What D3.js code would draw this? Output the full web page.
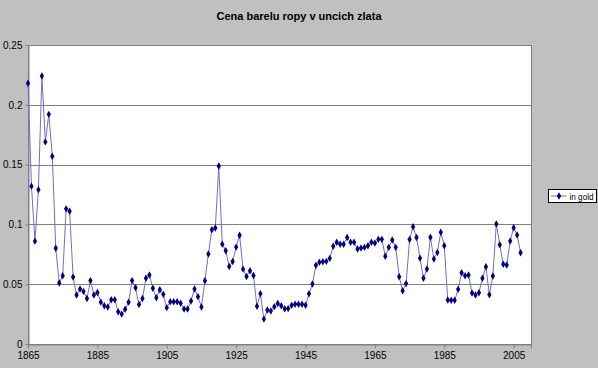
<!DOCTYPE html>
<html>
<head>
<meta charset="utf-8">
<script src="https://cdn.jsdelivr.net/npm/d3@7"></script>
<style>
  body { margin: 0; background: #c0c0c0; }
  svg { display: block; }
</style>
</head>
<body>
<script>
// data: barrel of oil priced in ounces of gold, one value per year from 1865
var startYear = 1865;
var inGold = [
  0.218, 0.132, 0.086, 0.129, 0.224, 0.169, 0.192, 0.157, 0.080, 0.051,
  0.057, 0.113, 0.111, 0.056, 0.041, 0.046, 0.044, 0.038, 0.053, 0.041,
  0.043, 0.035, 0.032, 0.031, 0.037, 0.037, 0.027, 0.025, 0.029, 0.035,
  0.053, 0.047, 0.033, 0.038, 0.055, 0.0577, 0.0466, 0.0387, 0.0454, 0.0415,
  0.0304, 0.0354, 0.0354, 0.0354, 0.034, 0.0293, 0.0293, 0.036, 0.046, 0.0396,
  0.031, 0.0529, 0.0753, 0.0956, 0.097, 0.1488, 0.0835, 0.078, 0.0648, 0.069,
  0.081, 0.091, 0.0626, 0.0565, 0.0613, 0.0572, 0.0315, 0.0421, 0.0208, 0.0284,
  0.0276, 0.0312, 0.0338, 0.032, 0.0294, 0.0296, 0.0324, 0.0333, 0.0333, 0.0332,
  0.0324, 0.042, 0.0502, 0.0658, 0.0683, 0.0688, 0.0691, 0.0716, 0.0817, 0.085,
  0.0834, 0.0834, 0.089, 0.085, 0.085, 0.0794, 0.0803, 0.0808, 0.0822, 0.085,
  0.0844, 0.0875, 0.0875, 0.0733, 0.0808, 0.087, 0.0808, 0.0563, 0.0446, 0.0505,
  0.0873, 0.098, 0.089, 0.0718, 0.055, 0.0627, 0.0892, 0.0711, 0.0765, 0.0934,
  0.0822, 0.0368, 0.0365, 0.0365, 0.0457, 0.0596, 0.0571, 0.0577, 0.0426, 0.041,
  0.0429, 0.0549, 0.0646, 0.0412, 0.0569, 0.1003, 0.083, 0.0666, 0.066, 0.0861,
  0.0972, 0.0911, 0.0763
];
var xTicks = [1865, 1885, 1905, 1925, 1945, 1965, 1985, 2005];
var yTicks = [0, 0.05, 0.1, 0.15, 0.2, 0.25];
var title = "Cena barelu ropy v uncich zlata";
var seriesName = "in gold";

var width = 598, height = 368;
var plot = {left: 28, right: 531, top: 45, bottom: 344};

var data = inGold.map((v, i) => ({year: startYear + i, value: v}));

var x = d3.scaleLinear().domain([1865, 2010]).range([plot.left, plot.right]);
var y = d3.scaleLinear().domain([0, 0.25]).range([plot.bottom, plot.top]);

var svg = d3.select("body").append("svg")
    .attr("width", width)
    .attr("height", height)
    .attr("font-family", "'Liberation Sans', Arial, sans-serif");

svg.append("rect")
    .attr("width", width).attr("height", height)
    .attr("fill", "#c0c0c0");

// plot area
svg.append("rect")
    .attr("x", plot.left).attr("y", plot.top)
    .attr("width", plot.right - plot.left)
    .attr("height", plot.bottom - plot.top)
    .attr("fill", "#fff")
    .attr("stroke", "#808080")
    .attr("shape-rendering", "crispEdges");

// gridlines
svg.append("g")
  .selectAll("line")
  .data(yTicks.filter(d => d > 0))
  .join("line")
    .attr("x1", plot.left).attr("x2", plot.right)
    .attr("y1", d => Math.round(y(d)) + 0.5)
    .attr("y2", d => Math.round(y(d)) + 0.5)
    .attr("stroke", "#808080");

// axes
var yAxis = svg.append("g")
    .attr("transform", `translate(${plot.left + 0.5},0)`)
    .call(d3.axisLeft(y).tickValues(yTicks).tickSize(3).tickPadding(3).tickFormat(d3.format("~g")));
var xAxis = svg.append("g")
    .attr("transform", `translate(0,${plot.bottom + 0.5})`)
    .call(d3.axisBottom(x).tickValues(xTicks).tickSize(4).tickPadding(3).tickFormat(d3.format("d")));

[yAxis, xAxis].forEach(a => {
  a.select(".domain").attr("stroke", "#808080");
  a.selectAll(".tick line").attr("stroke", "#808080");
  a.selectAll("text").attr("fill", "#000").attr("font-size", 10);
});

// series
var line = d3.line().x(d => x(d.year)).y(d => y(d.value));
svg.append("path")
    .datum(data)
    .attr("fill", "none")
    .attr("stroke", "#7070c4")
    .attr("stroke-width", 1)
    .attr("d", line);

var diamond = d3.symbol().type(d3.symbolDiamond).size(16);
svg.append("g")
  .selectAll("path")
  .data(data)
  .join("path")
    .attr("transform", d => `translate(${x(d.year)},${y(d.value)})`)
    .attr("d", diamond)
    .attr("fill", "#000080");

// title
svg.append("text")
    .attr("x", 299).attr("y", 20)
    .attr("text-anchor", "middle")
    .attr("font-weight", "bold")
    .attr("font-size", 11)
    .text(title);

// legend
var legend = svg.append("g").attr("transform", "translate(548.5,189.5)");
legend.append("rect")
    .attr("width", 48).attr("height", 13)
    .attr("fill", "#fff")
    .attr("stroke", "#000");
legend.append("line")
    .attr("x1", 2.5).attr("x2", 18).attr("y1", 6.5).attr("y2", 6.5)
    .attr("stroke", "#7070c4");
legend.append("path")
    .attr("transform", "translate(10.5,6.5)")
    .attr("d", diamond)
    .attr("fill", "#000080");
legend.append("text")
    .attr("x", 21).attr("y", 10)
    .attr("font-size", 9)
    .attr("textLength", 24)
    .attr("lengthAdjust", "spacingAndGlyphs")
    .attr("fill", "#000")
    .text(seriesName);
</script>
</body>
</html>
